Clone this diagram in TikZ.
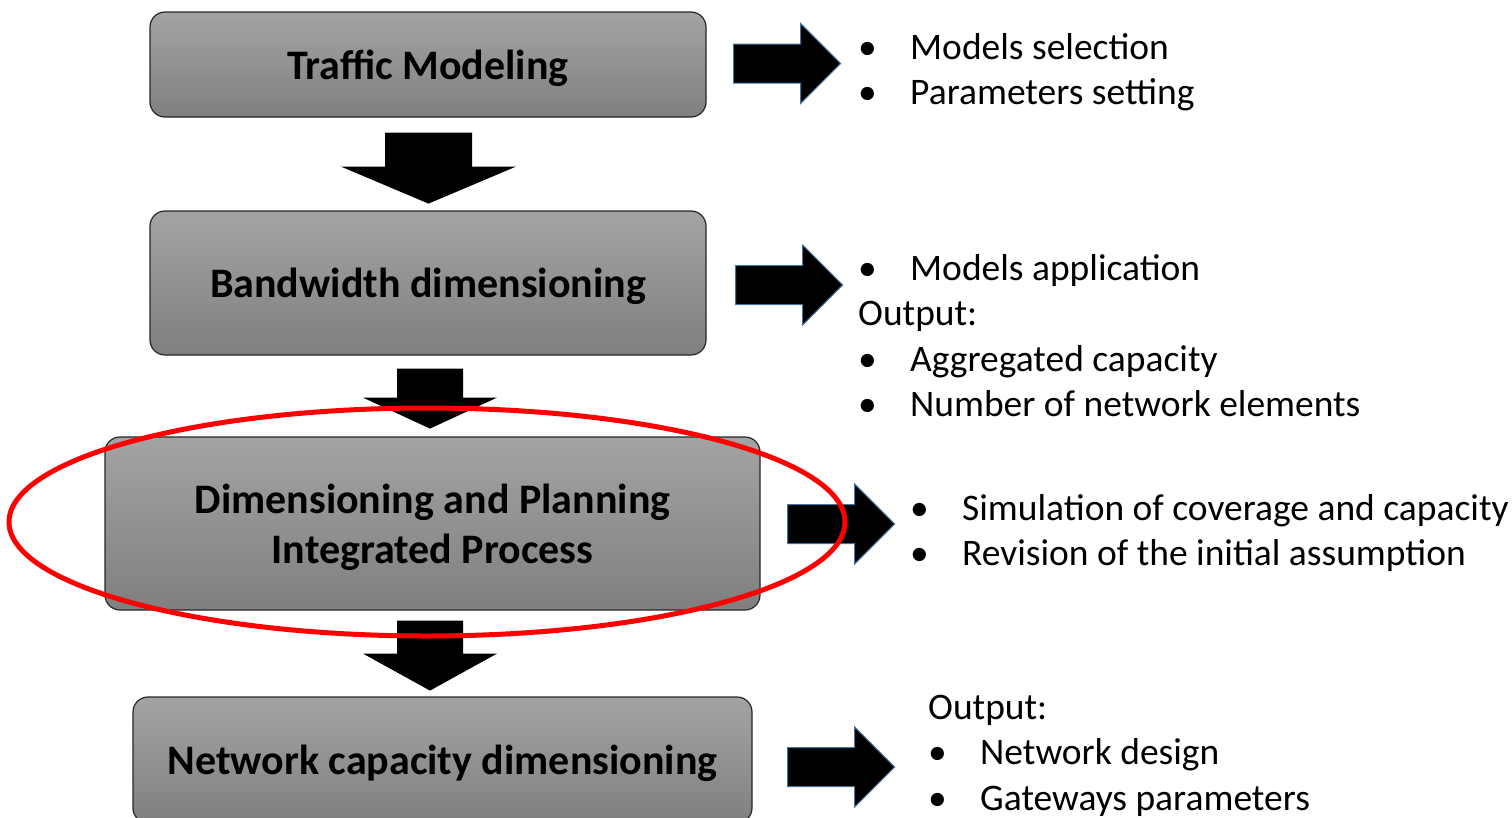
\documentclass[tikz,border=0pt]{standalone}
\usepackage{fontspec}
\setmainfont{Carlito}
\usetikzlibrary{calc}

% block arrows
\definecolor{arrowblue}{RGB}{65,113,156}
\tikzset{
  pics/downblk/.style n args={4}{code={
    \fill[black] (-#1,0) -- (#1,0) -- (#1,#3) -- (#2,#3) -- (0,#4)
      -- (-#2,#3) -- (-#1,#3) -- cycle;
  }},
  pics/rightblk/.style={code={
    \filldraw[fill=black, draw=arrowblue, line width=1pt]
      (0,-19.5) -- (67,-19.5) -- (67,-40) -- (107,0) -- (67,40)
      -- (67,19.5) -- (0,19.5) -- cycle;
  }}
}
\newcommand{\bul}{\makebox[52pt][l]{•}}

\begin{document}
\begin{tikzpicture}[x=1pt, y=-1pt,
  stepbox/.style={draw=black!85, line width=1.2pt, rounded corners=15pt,
    top color=black!36, bottom color=black!50, inner sep=0pt, text depth=0pt,
    font=\fontsize{42}{50}\selectfont\bfseries, align=center},
  itemlist/.style={anchor=base west, inner sep=0pt,
    font=\fontsize{37.5}{45.5}\selectfont},
  redring/.style={draw=red, line width=5pt}
]
\useasboundingbox (0,0) rectangle (1512,817);

% process boxes
\node[stepbox, minimum width=556pt, minimum height=105pt] (traffic) at (428,64.5) {Traffic Modeling};
\node[stepbox, minimum width=556pt, minimum height=144pt] (band) at (428,283) {Bandwidth dimensioning};
\node[stepbox, minimum width=655pt, minimum height=173pt] (dimplan) at (432.5,523.5) {Dimensioning and Planning\\Integrated Process};
\node[stepbox, minimum width=619pt, minimum height=126pt] (netcap) at (442.5,760) {Network capacity dimensioning};

% down arrows
\pic at ($(traffic.south)+(0.5,15)$) {downblk={43.5}{87.5}{34}{71}};
\pic at ($(band.south)+(2,13)$) {downblk={33}{67}{29}{60}};
\pic at ($(dimplan.south)+(-2.5,10)$) {downblk={33}{67}{33}{70}};

% right arrows
\pic at ($(traffic.east)+(27,-1)$) {rightblk};
\pic at ($(band.east)+(29,2)$) {rightblk};
\pic at ($(dimplan.east)+(27,0.5)$) {rightblk};
\pic at ($(netcap.east)+(35,7)$) {rightblk};

% lists
\node[itemlist] (l1) at (858,59) {\begin{tabular}[t]{@{}l@{}}
  \bul Models selection\\ \bul Parameters setting\end{tabular}};
\node[itemlist] (l2) at (858,280) {\begin{tabular}[t]{@{}l@{}}
  \bul Models application\\ Output:\\ \bul Aggregated capacity\\
  \bul Number of network elements\end{tabular}};
\node[itemlist] (l3) at (910,520) {\begin{tabular}[t]{@{}l@{}}
  \bul Simulation of coverage and capacity\\
  \bul Revision of the initial assumption\end{tabular}};
\node[itemlist] (l4) at (928,719) {\begin{tabular}[t]{@{}l@{}}
  Output:\\ \bul Network design\\ \bul Gateways parameters\end{tabular}};

% highlight
\draw[redring] (427,522) ellipse [x radius=418, y radius=114];
\end{tikzpicture}
\end{document}
